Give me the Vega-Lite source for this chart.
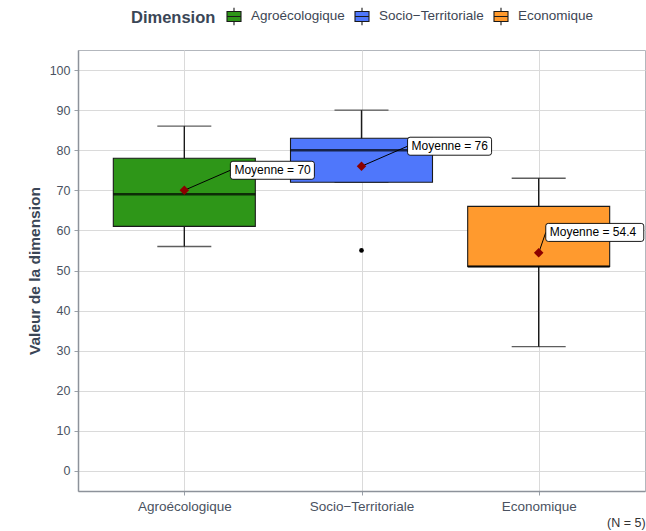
{
  "$schema": "https://vega.github.io/schema/vega-lite/v6.json",
  "autosize": "none",
  "width": 567,
  "height": 441,
  "padding": {"left": 78, "top": 50, "right": 1, "bottom": 40},
  "background": "white",
  "config": {
    "font": "Liberation Sans",
    "view": {"stroke": "#b3b7bd", "strokeWidth": 1}
  },
  "title": {"text": "(N = 5)", "orient": "bottom", "anchor": "end", "fontSize": 12.5, "fontWeight": "normal", "color": "#333333", "offset": 4, "font": "Liberation Sans"},
  "datasets": {
    "summary": [
      {"Dimension": "Agroécologique", "pos": 1, "lower": 56, "q1": 61, "median": 69, "q3": 78, "upper": 86, "mean": 70, "label": "Moyenne = 70", "labelPos": 1.26, "labelY": 75},
      {"Dimension": "Socio−Territoriale", "pos": 2, "lower": 72, "q1": 72, "median": 80, "q3": 83, "upper": 90, "mean": 76, "label": "Moyenne = 76", "labelPos": 2.26, "labelY": 81},
      {"Dimension": "Economique", "pos": 3, "lower": 31, "q1": 51, "median": 51, "q3": 66, "upper": 73, "mean": 54.4, "label": "Moyenne = 54.4", "labelPos": 3.04, "labelY": 59.5}
    ],
    "outliers": [
      {"Dimension": "Socio−Territoriale", "pos": 2, "value": 55}
    ]
  },
  "encoding": {
    "x": {
      "field": "pos", "type": "quantitative",
      "scale": {"domain": [0.4, 3.6], "nice": false, "zero": false, "padding": 0},
      "axis": {
        "title": null,
        "values": [1, 2, 3],
        "labelExpr": "datum.value == 1 ? 'Agroécologique' : datum.value == 2 ? 'Socio−Territoriale' : 'Economique'",
        "labelFontSize": 13.5, "labelColor": "#4a5261", "labelPadding": 4,
        "tickSize": 4, "tickColor": "#9aa0a8",
        "domainColor": "#8d929a", "domainWidth": 1.5,
        "grid": true, "gridColor": "#dadada", "gridWidth": 1
      }
    }
  },
  "layer": [
    {
      "data": {"name": "summary"},
      "mark": {"type": "rule", "color": "#1a1a1a", "strokeWidth": 1.4},
      "encoding": {
        "y": {
          "field": "lower", "type": "quantitative",
          "scale": {"domain": [-5, 105], "nice": false, "zero": false, "padding": 0},
          "axis": {
            "title": "Valeur de la dimension",
            "titleFontSize": 15.5, "titleFontWeight": "bold", "titleColor": "#3a4656", "titlePadding": 7,
            "values": [0, 5, 10, 15, 20, 25, 30, 35, 40, 45, 50, 55, 60, 65, 70, 75, 80, 85, 90, 95, 100],
            "labelExpr": "datum.value % 10 === 0 ? datum.label : ''",
            "labelFontSize": 12.5, "labelColor": "#4a5261", "labelPadding": 4,
            "tickSize": 4, "tickColor": "#9aa0a8",
            "tickOpacity": {"condition": {"test": "datum.value % 10 !== 0", "value": 0}, "value": 1},
            "domainColor": "#8d929a", "domainWidth": 1.5,
            "grid": true,
            "gridColor": {"condition": {"test": "datum.value % 10 !== 0", "value": "#ededed"}, "value": "#dadada"},
            "gridWidth": 1
          }
        },
        "y2": {"field": "upper"}
      }
    },
    {
      "data": {"name": "summary"},
      "mark": {"type": "tick", "orient": "horizontal", "size": 54, "thickness": 1.4, "color": "#1a1a1a"},
      "encoding": {"y": {"field": "lower", "type": "quantitative"}}
    },
    {
      "data": {"name": "summary"},
      "mark": {"type": "tick", "orient": "horizontal", "size": 54, "thickness": 1.4, "color": "#1a1a1a"},
      "encoding": {"y": {"field": "upper", "type": "quantitative"}}
    },
    {
      "data": {"name": "summary"},
      "mark": {"type": "bar", "size": 142, "stroke": "#1a1a1a", "strokeWidth": 1.1},
      "encoding": {
        "y": {"field": "q1", "type": "quantitative"},
        "y2": {"field": "q3"},
        "fill": {
          "field": "Dimension", "type": "nominal",
          "scale": {"domain": ["Agroécologique", "Socio−Territoriale", "Economique"], "range": ["#2e9618", "#4f77fb", "#ff9a2e"]},
          "legend": {
            "orient": "none", "direction": "horizontal",
            "legendX": 53, "legendY": -42,
            "title": "Dimension", "titleOrient": "left", "titleFontSize": 16.5, "titleFontWeight": "bold", "titleColor": "#3a4656", "titlePadding": 10, "titleBaseline": "middle",
            "labelFontSize": 13.5, "labelColor": "#3d4654", "labelOffset": 9,
            "columnPadding": 7,
            "symbolType": "M-1,-0.71H1V0.71H-1Z M-1,0H1 M0,-0.71V-1.26 M0,0.71V1.26",
            "symbolSize": 196, "symbolStrokeColor": "#1a1a1a", "symbolStrokeWidth": 1.1, "symbolOpacity": 1
          }
        }
      }
    },
    {
      "data": {"name": "summary"},
      "mark": {"type": "tick", "orient": "horizontal", "size": 142, "thickness": 2.5, "color": "#000000"},
      "encoding": {"y": {"field": "median", "type": "quantitative"}}
    },
    {
      "data": {"name": "outliers"},
      "mark": {"type": "point", "shape": "circle", "filled": true, "size": 22, "color": "#000000", "opacity": 1},
      "encoding": {"y": {"field": "value", "type": "quantitative"}}
    },
    {
      "data": {"name": "summary"},
      "mark": {"type": "rule", "color": "#000000", "strokeWidth": 1},
      "encoding": {
        "y": {"field": "mean", "type": "quantitative"},
        "x2": {"field": "labelPos"},
        "y2": {"field": "labelY"}
      }
    },
    {
      "data": {"name": "summary"},
      "mark": {"type": "point", "shape": "diamond", "filled": true, "size": 90, "color": "#8b0000", "opacity": 1},
      "encoding": {"y": {"field": "mean", "type": "quantitative"}}
    },
    {
      "data": {"name": "summary"},
      "mark": {"type": "point", "filled": true, "fill": "white", "stroke": "#000000", "strokeWidth": 0.9, "size": 4, "opacity": 1},
      "encoding": {
        "x": {"field": "labelPos", "type": "quantitative"},
        "y": {"field": "labelY", "type": "quantitative"},
        "shape": {
          "condition": {"test": "length(datum.label) > 12", "value": "M2.5,-9H95.5Q98,-9 98,-6.5V6.5Q98,9 95.5,9H2.5Q0,9 0,6.5V-6.5Q0,-9 2.5,-9Z"},
          "value": "M2.5,-9H81.5Q84,-9 84,-6.5V6.5Q84,9 81.5,9H2.5Q0,9 0,6.5V-6.5Q0,-9 2.5,-9Z"
        }
      }
    },
    {
      "data": {"name": "summary"},
      "mark": {"type": "text", "align": "left", "baseline": "middle", "dx": 4, "fontSize": 12, "color": "#000000", "font": "Liberation Sans"},
      "encoding": {
        "x": {"field": "labelPos", "type": "quantitative"},
        "y": {"field": "labelY", "type": "quantitative"},
        "text": {"field": "label"}
      }
    }
  ]
}
